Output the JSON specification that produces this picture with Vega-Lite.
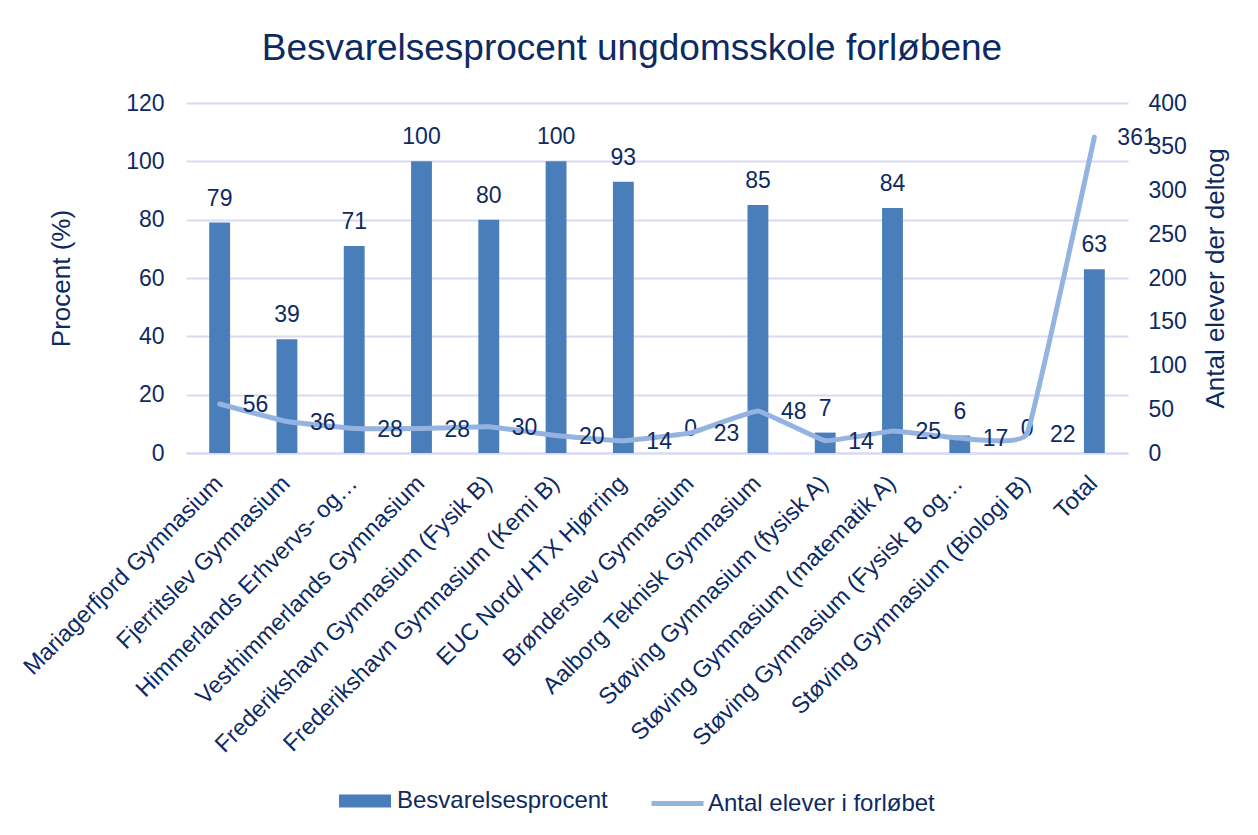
{
  "$schema": "https://vega.github.io/schema/vega-lite/v6.json",
  "width": 942,
  "height": 350,
  "autosize": {"type": "none"},
  "padding": {"left": 186, "top": 103, "right": 130, "bottom": 382},
  "background": "white",
  "title": {
    "text": "Besvarelsesprocent ungdomsskole forløbene",
    "font": "Liberation Sans",
    "fontSize": 37,
    "fontWeight": "normal",
    "color": "#0E2A62",
    "anchor": "middle",
    "frame": "group",
    "dx": -25,
    "offset": -5,
    "baseline": "alphabetic"
  },
  "config": {
    "font": "Liberation Sans",
    "view": {"stroke": null},
    "axis": {
      "labelFont": "Liberation Sans",
      "titleFont": "Liberation Sans",
      "labelColor": "#0E2A62",
      "titleColor": "#0E2A62",
      "labelFontSize": 23,
      "titleFontSize": 26,
      "titleFontWeight": "normal",
      "ticks": false,
      "tickSize": 0,
      "domain": false,
      "gridColor": "#D9D9F3",
      "gridWidth": 2
    },
    "legend": {
      "labelFont": "Liberation Sans",
      "labelFontSize": 24,
      "labelColor": "#0E2A62",
      "labelLimit": 400,
      "title": null
    }
  },
  "data": {
    "values": [
      {"skole": "Mariagerfjord Gymnasium", "pct": 79, "antal": 56},
      {"skole": "Fjerritslev Gymnasium", "pct": 39, "antal": 36},
      {"skole": "Himmerlands Erhvervs- og…", "pct": 71, "antal": 28},
      {"skole": "Vesthimmerlands Gymnasium", "pct": 100, "antal": 28},
      {"skole": "Frederikshavn Gymnasium (Fysik B)", "pct": 80, "antal": 30},
      {"skole": "Frederikshavn Gymnasium (Kemi B)", "pct": 100, "antal": 20},
      {"skole": "EUC Nord/ HTX Hjørring", "pct": 93, "antal": 14},
      {"skole": "Brønderslev Gymnasium", "pct": 0, "antal": 23},
      {"skole": "Aalborg Teknisk Gymnasium", "pct": 85, "antal": 48},
      {"skole": "Støving Gymnasium (fysisk A)", "pct": 7, "antal": 14},
      {"skole": "Støving Gymnasium (matematik A)", "pct": 84, "antal": 25},
      {"skole": "Støving Gymnasium (Fysisk B og…", "pct": 6, "antal": 17},
      {"skole": "Støving Gymnasium (Biologi B)", "pct": 0, "antal": 22},
      {"skole": "Total", "pct": 63, "antal": 361}
    ]
  },
  "encoding": {
    "x": {
      "field": "skole",
      "type": "nominal",
      "sort": null,
      "scale": {"paddingInner": 0.69, "paddingOuter": 0.345},
      "axis": {
        "title": null,
        "labelAngle": -45,
        "labelFontSize": 23.5,
        "labelPadding": 18,
        "labelOffset": -9,
        "labelLimit": 500,
        "domain": true,
        "domainColor": "#D9D9F3",
        "domainWidth": 2,
        "grid": false
      }
    }
  },
  "layer": [
    {
      "encoding": {
        "y": {
          "field": "pct",
          "type": "quantitative",
          "scale": {"domain": [0, 120]},
          "axis": {
            "title": "Procent (%)",
            "orient": "left",
            "values": [0, 20, 40, 60, 80, 100, 120],
            "grid": true,
            "labelPadding": 22,
            "titlePadding": 51
          }
        }
      },
      "layer": [
        {
          "mark": {"type": "bar", "color": "#4A7EBB"},
          "encoding": {
            "fill": {
              "datum": "Besvarelsesprocent",
              "scale": {"range": ["#4A7EBB"]},
              "legend": {
                "orient": "none",
                "legendX": 153,
                "legendY": 672,
                "symbolType": "M-1,-0.25H1V0.25H-1Z",
                "symbolSize": 2704,
                "symbolStrokeWidth": 0,
                "labelOffset": 6
              }
            }
          }
        },
        {
          "mark": {"type": "text", "baseline": "alphabetic", "dy": -17, "fontSize": 23, "color": "#0E2A62", "font": "Liberation Sans"},
          "encoding": {"text": {"field": "pct", "type": "quantitative"}}
        }
      ]
    },
    {
      "encoding": {
        "y": {
          "field": "antal",
          "type": "quantitative",
          "scale": {"domain": [0, 400]},
          "axis": {
            "title": "Antal elever der deltog",
            "orient": "right",
            "values": [0, 50, 100, 150, 200, 250, 300, 350, 400],
            "grid": false,
            "labelPadding": 20,
            "titlePadding": 42,
            "titleAngle": -90
          }
        }
      },
      "layer": [
        {
          "mark": {"type": "line", "interpolate": "cardinal", "tension": 0.75, "strokeWidth": 5, "strokeCap": "round", "strokeJoin": "round", "color": "#95B3E0"},
          "encoding": {
            "stroke": {
              "datum": "Antal elever i forløbet",
              "scale": {"range": ["#95B3E0"]},
              "legend": {
                "orient": "none",
                "legendX": 463,
                "legendY": 672,
                "symbolType": "stroke",
                "symbolSize": 2704,
                "symbolStrokeWidth": 5,
                "labelOffset": 2
              }
            }
          }
        },
        {
          "mark": {"type": "text", "align": "left", "baseline": "middle", "dx": 23, "dy": 1, "fontSize": 23, "color": "#0E2A62", "font": "Liberation Sans"},
          "encoding": {"text": {"field": "antal", "type": "quantitative"}}
        }
      ]
    }
  ],
  "resolve": {"scale": {"y": "independent"}}
}
